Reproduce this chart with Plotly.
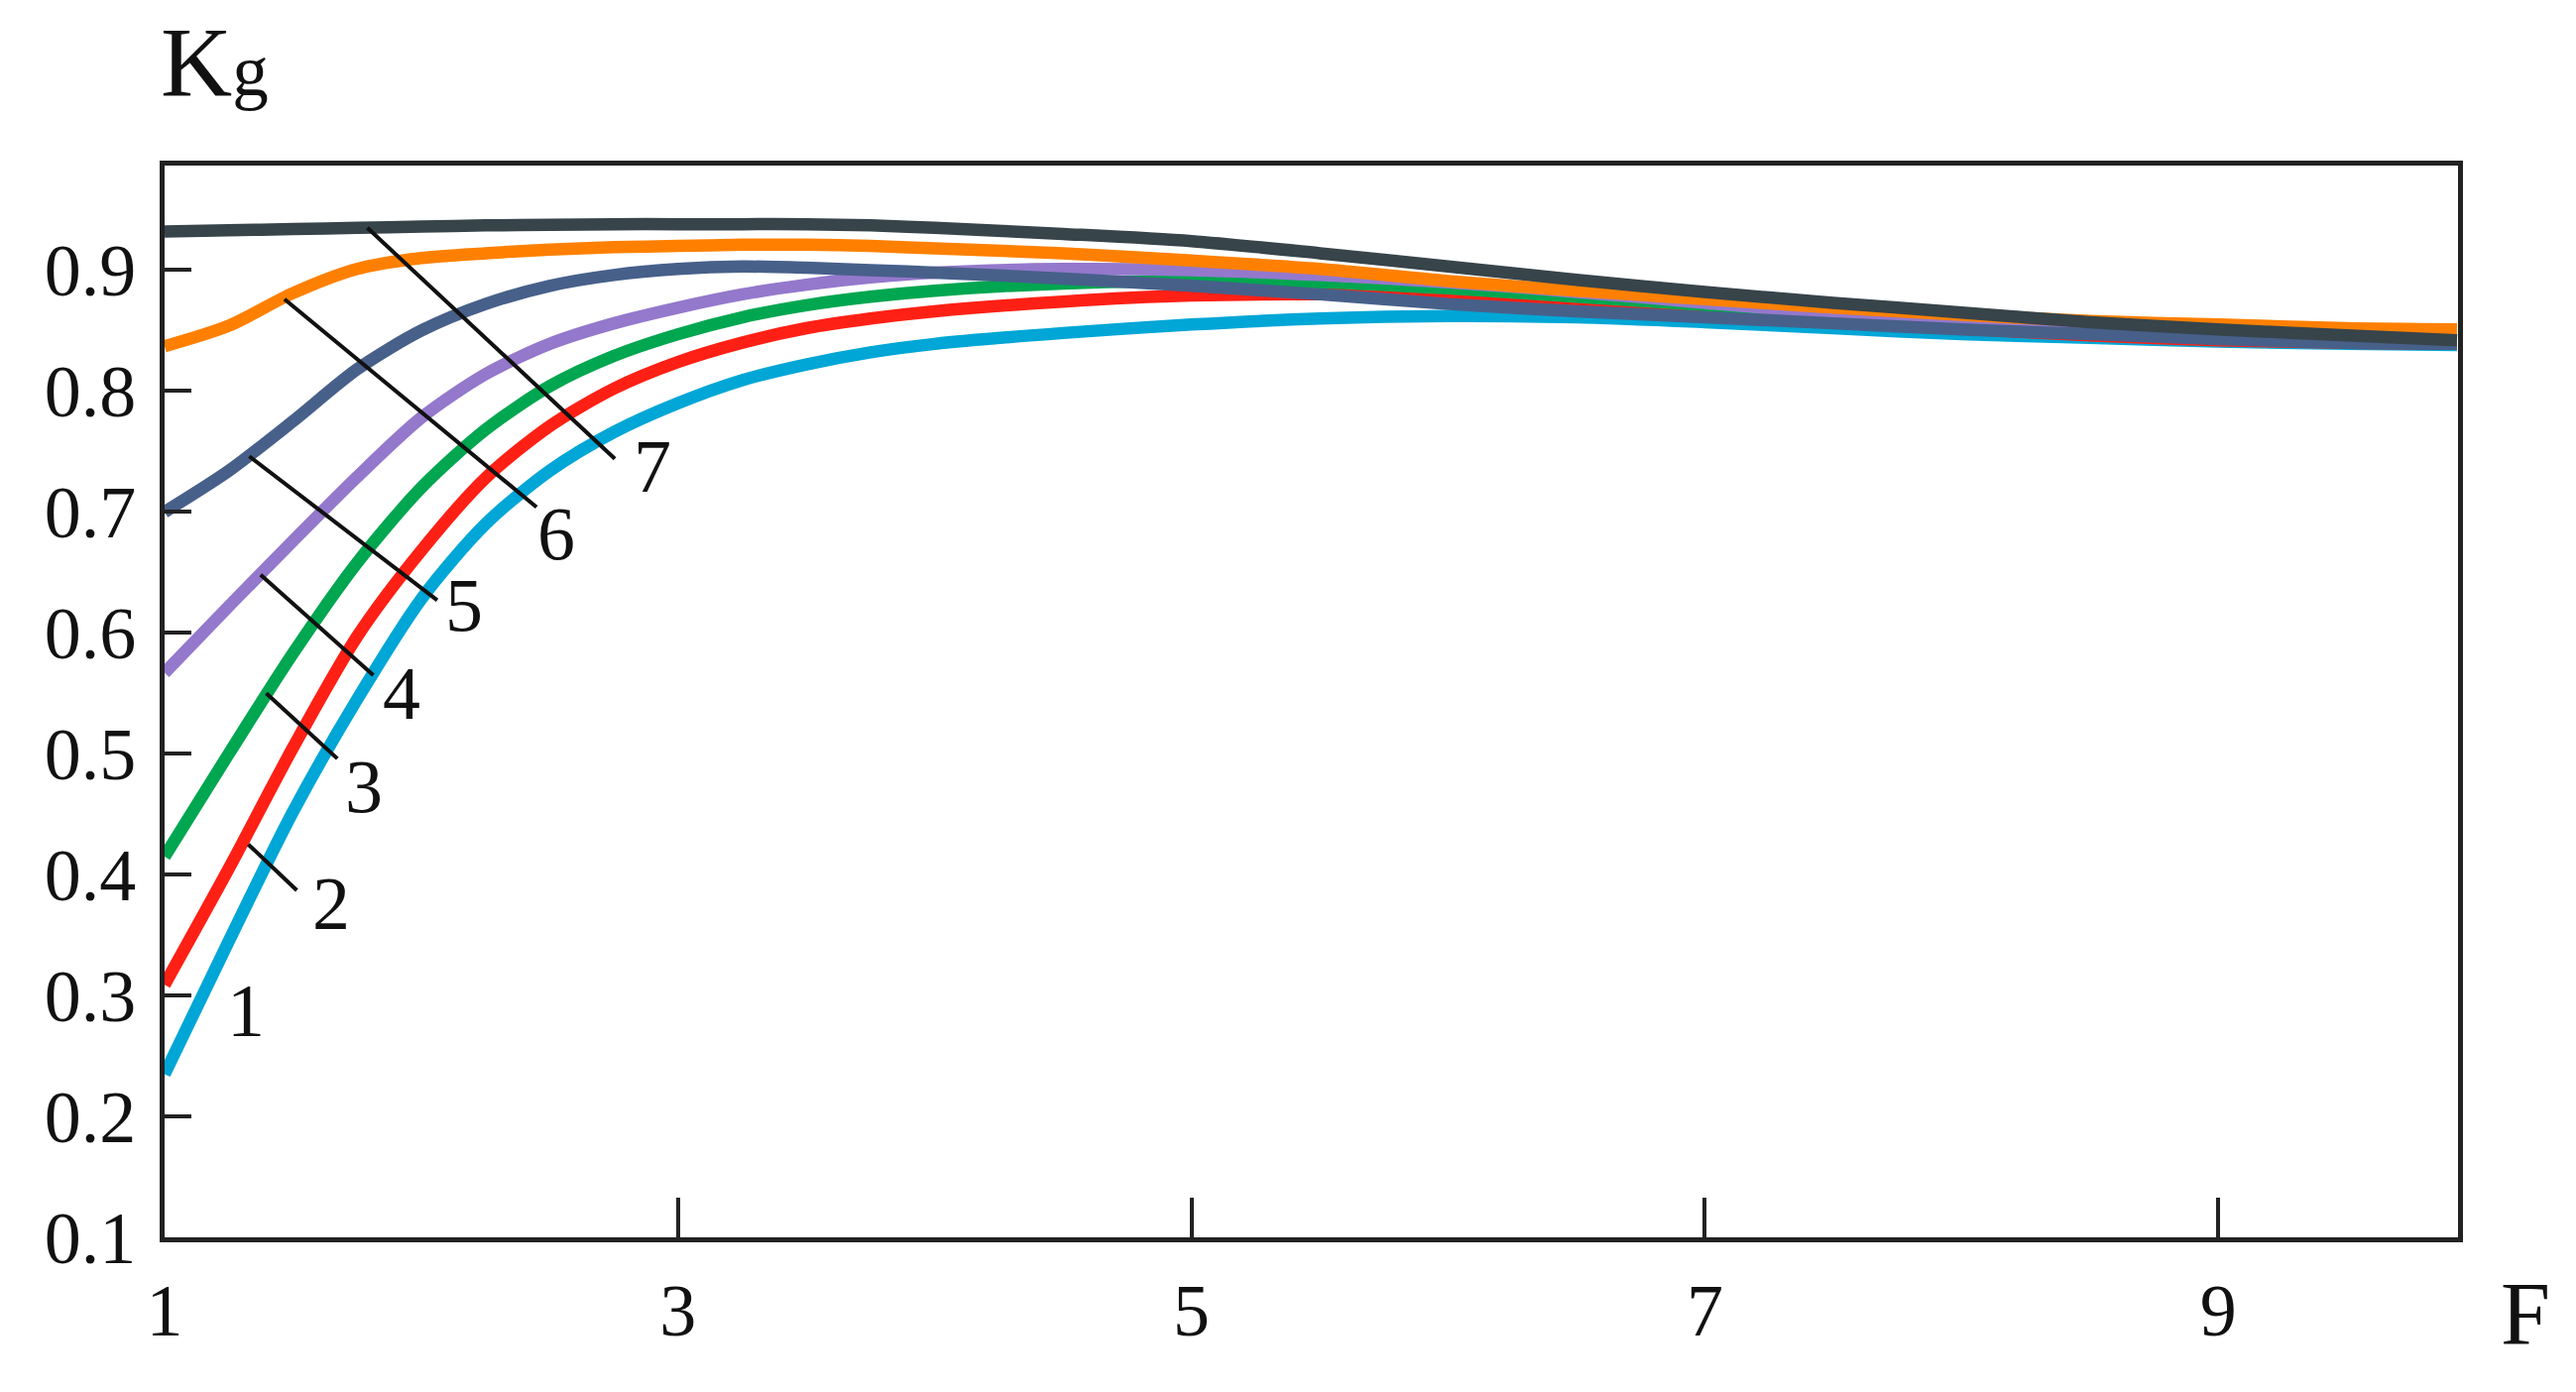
import plotly.graph_objects as go

# F axis grid shared by all curves
f_values = [1, 1.25, 1.5, 1.75, 2, 2.25, 2.5, 2.75, 3, 3.25, 3.5, 3.75, 4,
            4.5, 5, 5.5, 6, 6.5, 7, 7.5, 8, 8.5, 9, 9.5, 9.93]

# Kg values per curve (1..7)
kg_1 = [0.235, 0.345, 0.452, 0.545, 0.628, 0.690, 0.734, 0.766, 0.790, 0.809, 0.822, 0.832, 0.839,
        0.848, 0.855, 0.860, 0.862, 0.861, 0.857, 0.852, 0.847, 0.844, 0.841, 0.839, 0.838]
kg_2 = [0.309, 0.405, 0.505, 0.597, 0.668, 0.728, 0.771, 0.802, 0.824, 0.840, 0.852, 0.860, 0.866,
        0.874, 0.879, 0.880, 0.878, 0.874, 0.868, 0.860, 0.852, 0.846, 0.842, 0.840, 0.839]
kg_3 = [0.415, 0.500, 0.583, 0.658, 0.720, 0.768, 0.804, 0.829, 0.847, 0.861, 0.871, 0.878, 0.883,
        0.889, 0.891, 0.890, 0.885, 0.878, 0.871, 0.862, 0.854, 0.848, 0.844, 0.841, 0.840]
kg_4 = [0.567, 0.622, 0.676, 0.729, 0.778, 0.814, 0.839, 0.856, 0.869, 0.880, 0.888, 0.894, 0.898,
        0.901, 0.900, 0.896, 0.890, 0.882, 0.873, 0.864, 0.855, 0.849, 0.845, 0.842, 0.841]
kg_5 = [0.700, 0.734, 0.775, 0.818, 0.850, 0.872, 0.887, 0.896, 0.901, 0.903, 0.902, 0.900, 0.898,
        0.893, 0.887, 0.880, 0.872, 0.866, 0.861, 0.856, 0.851, 0.847, 0.843, 0.840, 0.839]
kg_6 = [0.837, 0.854, 0.881, 0.901, 0.910, 0.914, 0.917, 0.919, 0.920, 0.921, 0.921, 0.920, 0.918,
        0.914, 0.908, 0.901, 0.891, 0.883, 0.876, 0.869, 0.863, 0.858, 0.855, 0.852, 0.851]
kg_7 = [0.932, 0.933, 0.934, 0.935, 0.936, 0.937, 0.9375, 0.938, 0.938, 0.938, 0.938, 0.937, 0.935,
        0.930, 0.924, 0.914, 0.903, 0.892, 0.882, 0.873, 0.865, 0.857, 0.851, 0.846, 0.842]

curves = [kg_1, kg_2, kg_3, kg_4, kg_5, kg_6, kg_7]
colors = ['#00A6D6', '#FF2015', '#00A650', '#9478CC', '#47608A', '#FF8000', '#37444A']

# curve labels and their leader lines (data coordinates)
label_text = ['1', '2', '3', '4', '5', '6', '7']
label_f = [1.316, 1.650, 1.775, 1.925, 2.167, 2.524, 2.900]
label_kg = [0.288, 0.376, 0.473, 0.550, 0.623, 0.682, 0.738]
leader_f0 = [None, 1.326, 1.396, 1.374, 1.330, 1.467, 1.790]
leader_kg0 = [None, 0.425, 0.550, 0.648, 0.746, 0.876, 0.935]
leader_f1 = [None, 1.515, 1.673, 1.813, 2.062, 2.449, 2.754]
leader_kg1 = [None, 0.387, 0.496, 0.565, 0.627, 0.704, 0.744]

x_ticks = [1, 3, 5, 7, 9]
y_ticks = [0.1, 0.2, 0.3, 0.4, 0.5, 0.6, 0.7, 0.8, 0.9]
y_tick_text = ['0.1', '0.2', '0.3', '0.4', '0.5', '0.6', '0.7', '0.8', '0.9']

serif = 'Liberation Serif'
axis_color = '#222222'

fig = go.Figure()

for i, kg in enumerate(curves):
    fig.add_trace(
        go.Scatter(
            x=f_values
            , y=kg
            , mode='lines'
            , line=dict(color=colors[i], width=12.5, shape='spline', smoothing=0.8)
            , showlegend=False
        )
    )

# leader lines
for i in range(len(label_text)):
    if leader_f0[i] is None:
        continue
    fig.add_trace(
        go.Scatter(
            x=[leader_f0[i], leader_f1[i]]
            , y=[leader_kg0[i], leader_kg1[i]]
            , mode='lines'
            , line=dict(color='#111111', width=4)
            , showlegend=False
        )
    )

# curve numbers
for i in range(len(label_text)):
    fig.add_annotation(
        x=label_f[i], y=label_kg[i], text=label_text[i]
        , showarrow=False, xanchor='center', yanchor='middle'
        , font=dict(family=serif, size=76, color='#111111')
    )

# axis titles (g sits on the K baseline, just smaller)
fig.add_annotation(
    xref='paper', yref='paper', x=-0.0026, y=1.0964
    , text='K<span style="font-size:73px">g</span>', showarrow=False
    , xanchor='left', yanchor='middle'
    , font=dict(family=serif, size=100, color='#111111')
)
fig.add_annotation(
    xref='paper', yref='paper', x=1.0295, y=-0.0715
    , text='F', showarrow=False, xanchor='center', yanchor='middle'
    , font=dict(family=serif, size=90, color='#111111')
)

# page body has an 8px margin, so the figure is shrunk by it
fig.update_layout(
    width=2582
    , height=1388
    , margin=dict(l=158, r=111, t=159, b=148)
    , paper_bgcolor='white'
    , plot_bgcolor='white'
    , xaxis=dict(
        range=[1, 9.934]
        , tickvals=x_ticks
        , ticks='inside', ticklen=40, tickwidth=4, tickcolor=axis_color
        , showline=True, linewidth=5, linecolor=axis_color, mirror=True
        , showgrid=False, zeroline=False
        , tickfont=dict(family=serif, size=74, color='#111111')
        , ticklabelstandoff=5
    )
    , yaxis=dict(
        range=[0.1, 0.9865]
        , tickvals=y_ticks
        , ticktext=y_tick_text
        , ticks='inside', ticklen=27, tickwidth=4, tickcolor=axis_color
        , showline=True, linewidth=5, linecolor=axis_color, mirror=True
        , showgrid=False, zeroline=False
        , tickfont=dict(family=serif, size=74, color='#111111')
        , ticklabelstandoff=9
    )
)

fig.write_html("out.html")
